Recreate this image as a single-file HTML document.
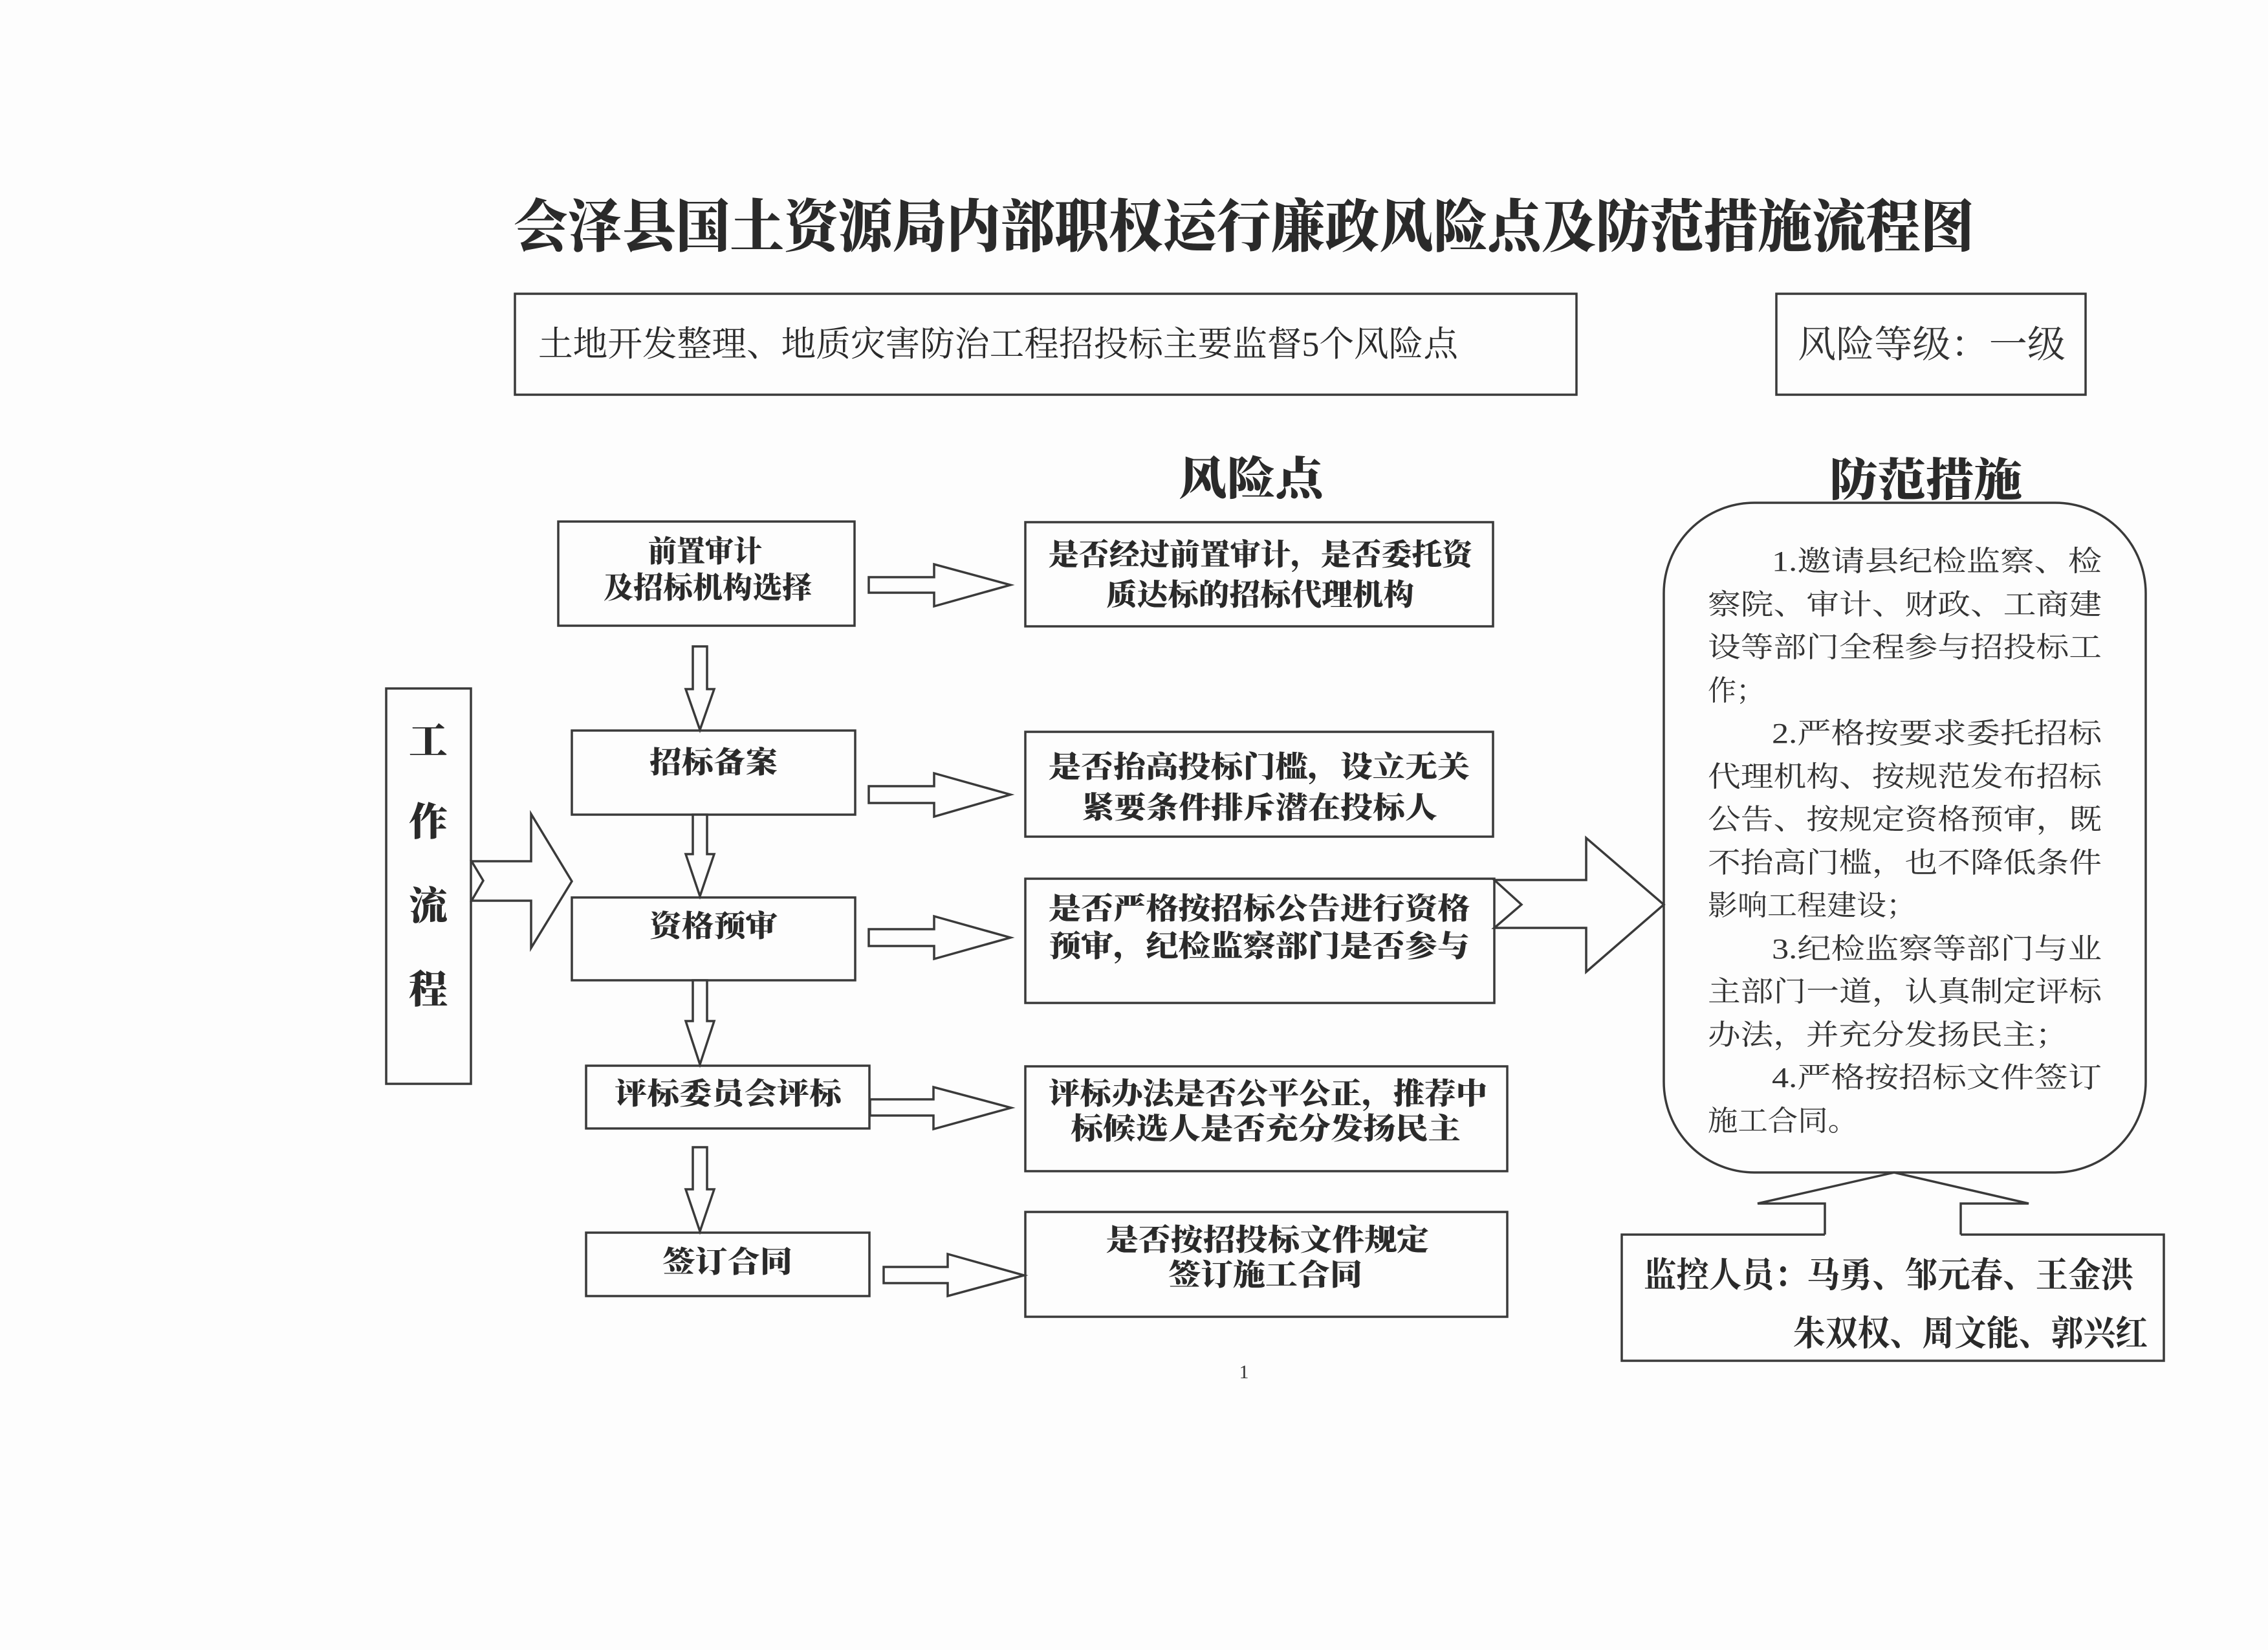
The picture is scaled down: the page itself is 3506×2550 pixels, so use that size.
<!DOCTYPE html>
<html><head><meta charset="utf-8"><style>
html,body{margin:0;padding:0;background:#fdfdfd;}
svg{display:block;}
.b{font-family:"Liberation Serif","Noto Serif CJK SC",serif;font-weight:900;fill:#2a2a2a;}
.r{font-family:"Liberation Serif","Noto Serif CJK SC",serif;font-weight:400;fill:#333;}
</style></head><body>
<svg width="3506" height="2550" viewBox="0 0 3506 2550" xmlns="http://www.w3.org/2000/svg">
<rect width="3506" height="2550" fill="#fdfdfd"/>
<g fill="none" stroke="#3a3a3a" stroke-width="3.5">
<rect x="796" y="454" width="1641" height="156"/>
<rect x="2746" y="454" width="478" height="156"/>
<rect x="597" y="1064" width="131" height="611"/>
<rect x="863" y="806" width="458" height="161"/>
<rect x="884" y="1129" width="438" height="130"/>
<rect x="884" y="1387" width="438" height="128"/>
<rect x="906" y="1647" width="438" height="97"/>
<rect x="906" y="1905" width="438" height="98"/>
<rect x="1585" y="807" width="723" height="161"/>
<rect x="1585" y="1131" width="723" height="162"/>
<rect x="1585" y="1358" width="725" height="192"/>
<rect x="1585" y="1648" width="745" height="162"/>
<rect x="1585" y="1873" width="745" height="162"/>
<rect x="2572" y="777" width="745" height="1035" rx="140" ry="140"/>
<path d="M2821 1908 H2507 V2103 H3345 V1908 H3031"/>
</g>
<g fill="#fdfdfd" stroke="#3a3a3a" stroke-width="3.5" stroke-linejoin="miter">
<path d="M729 1331 L747 1361 L729 1392 L821 1392 L821 1465 L884 1362 L821 1258 L821 1331 Z"/>
<path d="M2310 1360 L2352 1398 L2310 1434 L2452 1434 L2452 1502 L2572 1398 L2452 1295 L2452 1360 Z"/>
<path d="M2821 1908 L2821 1860 L2717 1860 L2928 1812 L3136 1860 L3031 1860 L3031 1908"/>
<path d="M1071 999 H1093 V1065 H1104 L1082 1128 L1060 1065 H1071 Z"/>
<path d="M1071 1259 H1093 V1320 H1104 L1082 1385 L1060 1320 H1071 Z"/>
<path d="M1071 1515 H1093 V1578 H1104 L1082 1645 L1060 1578 H1071 Z"/>
<path d="M1071 1773 H1093 V1838 H1104 L1082 1903 L1060 1838 H1071 Z"/>
<path d="M1343 892 H1444 V872 L1562 904 L1444 937 V916 H1343 Z"/>
<path d="M1343 1215 H1444 V1195 L1562 1228 L1444 1262 V1241 H1343 Z"/>
<path d="M1343 1436 H1444 V1416 L1562 1449 L1444 1482 V1462 H1343 Z"/>
<path d="M1345 1699 H1443 V1680 L1563 1712 L1443 1745 V1724 H1345 Z"/>
<path d="M1366 1958 H1465 V1938 L1583 1971 L1465 2003 V1983 H1366 Z"/>
</g>

<text class="b" x="794" y="381" font-size="88" textLength="2258" lengthAdjust="spacingAndGlyphs">会泽县国土资源局内部职权运行廉政风险点及防范措施流程图</text>
<text class="b" x="832" y="550" font-size="54" textLength="1422" lengthAdjust="spacingAndGlyphs" style="font-weight:400">土地开发整理、地质灾害防治工程招投标主要监督5个风险点</text>
<text class="r" x="2779" y="552" font-size="58" textLength="414" lengthAdjust="spacingAndGlyphs">风险等级：一级</text>
<text class="b" x="1822" y="764" font-size="70" textLength="224" lengthAdjust="spacingAndGlyphs">风险点</text>
<text class="b" x="2828" y="766" font-size="70" textLength="298" lengthAdjust="spacingAndGlyphs">防范措施</text>

<g class="b" font-size="60" text-anchor="middle">
<text x="662" y="1166">工</text>
<text x="662" y="1291">作</text>
<text x="662" y="1421">流</text>
<text x="662" y="1550">程</text>
</g>

<g class="b" font-size="46">
<text x="1002" y="868" textLength="176" lengthAdjust="spacingAndGlyphs">前置审计</text>
<text x="933" y="924" textLength="322" lengthAdjust="spacingAndGlyphs">及招标机构选择</text>
<text x="1004" y="1194" textLength="198" lengthAdjust="spacingAndGlyphs">招标备案</text>
<text x="1004" y="1447" textLength="198" lengthAdjust="spacingAndGlyphs">资格预审</text>
<text x="950" y="1706" textLength="351" lengthAdjust="spacingAndGlyphs">评标委员会评标</text>
<text x="1024" y="1966" textLength="201" lengthAdjust="spacingAndGlyphs">签订合同</text>

<text x="1621" y="873" textLength="655" lengthAdjust="spacingAndGlyphs">是否经过前置审计，是否委托资</text>
<text x="1710" y="935" textLength="476" lengthAdjust="spacingAndGlyphs">质达标的招标代理机构</text>
<text x="1621" y="1201" textLength="651" lengthAdjust="spacingAndGlyphs">是否抬高投标门槛，设立无关</text>
<text x="1672" y="1264" textLength="550" lengthAdjust="spacingAndGlyphs">紧要条件排斥潜在投标人</text>
<text x="1621" y="1420" textLength="651" lengthAdjust="spacingAndGlyphs">是否严格按招标公告进行资格</text>
<text x="1621" y="1478" textLength="651" lengthAdjust="spacingAndGlyphs">预审，纪检监察部门是否参与</text>
<text x="1621" y="1706" textLength="678" lengthAdjust="spacingAndGlyphs">评标办法是否公平公正，推荐中</text>
<text x="1655" y="1760" textLength="603" lengthAdjust="spacingAndGlyphs">标候选人是否充分发扬民主</text>
<text x="1710" y="1932" textLength="499" lengthAdjust="spacingAndGlyphs">是否按招投标文件规定</text>
<text x="1806" y="1986" textLength="300" lengthAdjust="spacingAndGlyphs">签订施工合同</text>
</g>

<g class="r" font-size="44">
<text x="2739" y="882" textLength="510" lengthAdjust="spacingAndGlyphs">1.邀请县纪检监察、检</text>
<text x="2640" y="949" textLength="609" lengthAdjust="spacingAndGlyphs">察院、审计、财政、工商建</text>
<text x="2640" y="1015" textLength="609" lengthAdjust="spacingAndGlyphs">设等部门全程参与招投标工</text>
<text x="2640" y="1082">作；</text>
<text x="2739" y="1148" textLength="510" lengthAdjust="spacingAndGlyphs">2.严格按要求委托招标</text>
<text x="2640" y="1215" textLength="609" lengthAdjust="spacingAndGlyphs">代理机构、按规范发布招标</text>
<text x="2640" y="1281" textLength="609" lengthAdjust="spacingAndGlyphs">公告、按规定资格预审，既</text>
<text x="2640" y="1348" textLength="609" lengthAdjust="spacingAndGlyphs">不抬高门槛，也不降低条件</text>
<text x="2640" y="1414" textLength="322" lengthAdjust="spacingAndGlyphs">影响工程建设；</text>
<text x="2739" y="1481" textLength="510" lengthAdjust="spacingAndGlyphs">3.纪检监察等部门与业</text>
<text x="2640" y="1547" textLength="609" lengthAdjust="spacingAndGlyphs">主部门一道，认真制定评标</text>
<text x="2640" y="1614" textLength="557" lengthAdjust="spacingAndGlyphs">办法，并充分发扬民主；</text>
<text x="2739" y="1680" textLength="510" lengthAdjust="spacingAndGlyphs">4.严格按招标文件签订</text>
<text x="2640" y="1747" textLength="232" lengthAdjust="spacingAndGlyphs">施工合同。</text>
</g>

<g class="b" font-size="54" style="font-weight:700">
<text x="2541" y="1989" textLength="757" lengthAdjust="spacingAndGlyphs">监控人员：马勇、邹元春、王金洪</text>
<text x="2772" y="2079" textLength="548" lengthAdjust="spacingAndGlyphs">朱双权、周文能、郭兴红</text>
</g>

<text class="r" x="1923" y="2130" font-size="30" text-anchor="middle">1</text>
</svg>
</body></html>
